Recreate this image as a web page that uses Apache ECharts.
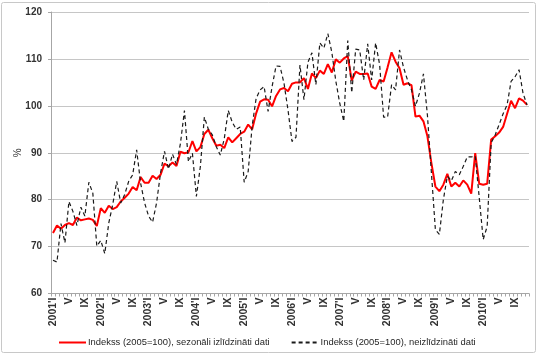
<!DOCTYPE html>
<html>
<head>
<meta charset="utf-8">
<script src="https://cdn.jsdelivr.net/npm/echarts@6/dist/echarts.min.js"></script>
<style>
html,body{margin:0;padding:0;background:#fff;}
#chart{width:540px;height:354px;}
</style>
</head>
<body>
<div id="chart"></div>
<script>
var years = [2001, 2002, 2003, 2004, 2005, 2006, 2007, 2008, 2009, 2010];
var months = ["I", "II", "III", "IV", "V", "VI", "VII", "VIII", "IX", "X", "XI", "XII"];

// Indekss (2005=100), sezonāli izlīdzināti dati
var seasonal = [
  72.9, 74.5, 73.8, 74.6, 75.0, 74.6, 76.2, 75.6, 75.8, 76.0, 75.7, 74.4,
  78.2, 77.2, 78.7, 78.0, 78.4, 79.6, 80.4, 81.3, 82.7, 82.0, 84.8, 83.6,
  83.6, 85.1, 84.4, 85.3, 87.7, 87.1, 87.9, 87.2, 90.2, 89.9, 90.1, 92.5,
  90.3, 91.2, 94.0, 94.9, 93.1, 91.5, 91.7, 91.0, 93.3, 92.2, 93.1, 94.0,
  94.5, 96.0, 95.0, 98.4, 100.9, 101.4, 101.3, 99.9, 102.1, 103.5, 103.8, 103.1,
  104.7, 105.0, 105.0, 105.9, 103.6, 106.9, 105.9, 107.5, 106.8, 108.9, 107.1, 109.9,
  109.2, 110.1, 110.6, 105.4, 107.3, 106.8, 106.8, 106.9, 104.1, 103.6, 105.5, 105.2,
  108.2, 111.4, 109.4, 108.0, 104.5, 104.8, 104.4, 97.7, 97.9, 96.7, 93.5, 87.8,
  82.8, 81.8, 83.2, 85.5, 82.8, 83.6, 82.8, 84.1, 83.2, 81.3, 89.9, 83.4,
  83.2, 83.4, 92.8, 93.5, 94.3, 95.5, 98.3, 101.1, 99.5, 101.6, 101.1, 100.2
];

// Indekss (2005=100), neizlīdzināti dati
var unadjusted = [
  67.1, 66.7, 74.9, 70.8, 79.6, 77.5, 74.5, 78.4, 76.5, 83.7, 81.4, 70.1,
  71.3, 68.5, 75.0, 79.0, 83.9, 79.3, 81.1, 83.9, 85.3, 90.6, 83.5, 79.3,
  76.5, 75.2, 79.3, 85.7, 90.3, 86.5, 89.7, 87.5, 92.0, 99.0, 88.1, 89.9,
  80.7, 87.1, 97.6, 95.0, 93.8, 91.3, 89.5, 93.0, 99.0, 96.5, 95.0, 95.5,
  83.7, 86.0, 95.7, 101.6, 103.4, 104.1, 98.8, 104.1, 108.5, 108.4, 104.8, 99.1,
  92.4, 93.3, 108.7, 101.3, 109.3, 111.3, 104.5, 113.4, 112.3, 115.4, 111.4, 105.3,
  100.5, 96.7, 113.9, 102.8, 112.1, 111.9, 105.5, 113.2, 105.5, 113.4, 108.8, 97.6,
  97.6, 104.5, 103.4, 111.9, 108.2, 105.5, 103.4, 99.9, 102.7, 106.8, 98.0, 85.7,
  73.6, 72.6, 80.0, 85.0, 84.0, 86.0, 85.3, 87.1, 89.1, 89.1, 89.3, 80.5,
  71.5, 74.3, 92.1, 93.8, 96.0, 98.3, 100.2, 105.2, 106.2, 107.7, 102.7, 100.2
];

var seriesNames = ["Indekss (2005=100), sezonāli izlīdzināti dati", "Indekss (2005=100), neizlīdzināti dati"];

var categories = [];
years.forEach(function (y) {
  months.forEach(function (m, k) {
    categories.push(k === 0 ? (y + "'" + m) : m);
  });
});

var chart = echarts.init(document.getElementById('chart'), null, {renderer: 'canvas'});
chart.setOption({
  animation: false,
  backgroundColor: '#ffffff',
  graphic: [{
    type: 'rect', silent: true, z: -1,
    shape: {x: 1.5, y: 2.5, width: 534, height: 350, r: 2},
    style: {fill: 'none', stroke: '#c8c8c8', lineWidth: 1}
  }],
  grid: {left: 51, top: 12, width: 478, height: 281.5, containLabel: false},
  legend: {
    left: 58, top: 338, padding: 0, itemGap: 21, itemWidth: 27, itemHeight: 8,
    itemStyle: {opacity: 0},
    textStyle: {fontFamily: 'Liberation Sans', fontSize: 9.4, color: '#262626', padding: [0, 0, 0, -3]},
    data: seriesNames
  },
  xAxis: {
    type: 'category', data: categories, boundaryGap: true,
    axisLine: {lineStyle: {color: '#a6a6a6', width: 1}},
    axisTick: {show: true, interval: 0, length: 3, alignWithLabel: false, lineStyle: {color: '#a6a6a6'}},
    axisLabel: {interval: 3, rotate: 90, margin: 4, fontFamily: 'Liberation Sans', fontWeight: 'bold', fontSize: 10.5, color: '#333'},
    splitLine: {show: false}
  },
  yAxis: {
    type: 'value', min: 60, max: 120, interval: 10,
    name: '%', nameLocation: 'middle', nameRotate: 90, nameGap: 28, nameMoveOverlap: false,
    nameTextStyle: {fontFamily: 'Liberation Sans', fontSize: 10, color: '#333'},
    axisLine: {show: true, lineStyle: {color: '#a6a6a6'}},
    axisTick: {show: true, length: 3, lineStyle: {color: '#a6a6a6'}},
    axisLabel: {margin: 9, fontFamily: 'Liberation Sans', fontWeight: 'bold', fontSize: 10, color: '#333'},
    splitLine: {lineStyle: {color: '#c6c6c6', width: 1}}
  },
  series: [
    {
      name: seriesNames[0], type: 'line', data: seasonal, symbol: 'none', smooth: false,
      lineStyle: {color: '#ff0000', width: 2}, itemStyle: {color: '#ff0000'}
    },
    {
      name: seriesNames[1], type: 'line', data: unadjusted, symbol: 'none', smooth: false,
      lineStyle: {color: '#1a1a1a', width: 1.2, type: [4, 3]}, itemStyle: {color: '#1a1a1a'}
    }
  ]
});
</script>
</body>
</html>
